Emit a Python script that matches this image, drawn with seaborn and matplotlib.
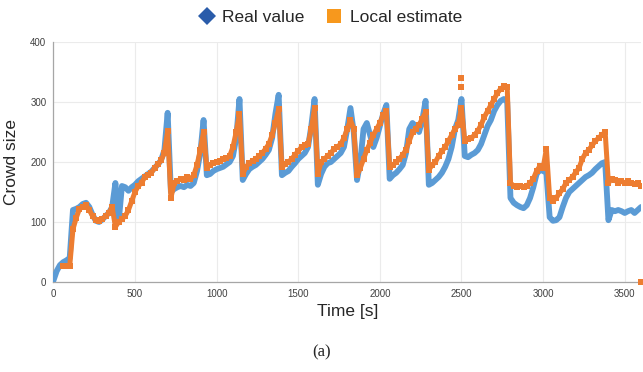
import numpy as np
import pandas as pd
import seaborn as sns
import matplotlib.pyplot as plt
from matplotlib.lines import Line2D

# sampled every 20 s, 0..3600
time_s = list(range(0, 3601, 20))

real_value = [
    2, 18, 28, 33, 36, 40, 120, 122, 125, 130,
    132, 125, 112, 102, 100, 104, 110, 115, 125, 165,
    100, 160, 158, 152, 158, 162, 168, 172, 176, 180,
    184, 190, 196, 203, 220, 282, 150, 155, 158, 160,
    158, 162, 160, 165, 185, 215, 270, 178, 180, 185,
    188, 190, 192, 196, 200, 210, 240, 305, 170, 180,
    188, 192, 195, 200, 205, 212, 220, 240, 280, 312,
    178, 182, 185, 192, 198, 205, 210, 215, 225, 260,
    305, 162, 180, 192, 198, 200, 205, 210, 215, 225,
    255, 290, 250, 170, 200, 255, 265, 245, 225, 240,
    260, 280, 295, 172, 178, 182, 188, 195, 215, 255,
    265, 260, 250, 270, 302, 162, 165, 170, 175, 182,
    192, 205, 225, 255, 270, 305, 210, 208, 212, 215,
    220, 230, 245, 260, 270, 285, 295, 302, 305, 300,
    140, 132, 128, 125, 123, 128, 140, 158, 180, 187,
    185, 182, 108, 102, 103, 108, 125, 140, 150, 155,
    160, 165, 170, 175, 178, 182, 188, 193, 198, 200,
    103, 120, 118, 120, 118, 115, 118, 120, 115, 120,
    125,
]

local_estimate = [
    np.nan, np.nan, np.nan, 27, 27, 26, 88, 107, 122, 125,
    128, 120, 110, 103, 102, 105, 110, 115, 125, 92,
    100, 105, 110, 120, 135, 150, 160, 165, 175, 178,
    182, 190, 196, 203, 215, 252, 140, 165, 168, 172,
    170, 175, 172, 178, 195, 220, 250, 190, 195, 198,
    200, 202, 205, 206, 210, 225, 250, 280, 180, 192,
    198, 202, 205, 210, 215, 222, 230, 245, 265, 288,
    192, 196, 200, 205, 212, 218, 225, 228, 230, 255,
    290, 180, 200, 205, 210, 215, 222, 225, 230, 240,
    255, 270, 255, 178, 190, 205, 220, 232, 245, 255,
    265, 278, 285, 192, 195, 200, 205, 212, 220, 235,
    250, 255, 262, 272, 283, 187, 195, 200, 210, 218,
    225, 235, 245, 255, 262, 290, 235, 238, 240, 245,
    252, 262, 275, 285, 295, 305, 315, 322, 326, 325,
    165, 160, 158, 160, 158, 160, 165, 172, 185, 193,
    190, 222, 140, 135, 140, 148, 155, 165, 170, 175,
    183, 190, 205, 215, 220, 228, 235, 240, 245, 250,
    165, 172, 170, 165, 168, 165, 168, 165, 163, 165,
    160,
]

# isolated estimate squares off the main band
outlier_t = [2500, 2500, 3600]
outlier_v = [340, 325, 0]

df = pd.DataFrame({"t": time_s, "real": real_value, "est": local_estimate})

sns.set_style("white")
plt.rcParams["font.family"] = ["Liberation Sans", "DejaVu Sans"]

fig = plt.figure(figsize=(6.43, 3.72), dpi=100)
ax = fig.add_axes([0.083, 0.242, 0.914, 0.645])

sns.lineplot(data=df, x="t", y="real", ax=ax, color="#5b9bd5", linewidth=4.2,
             zorder=3)
sns.lineplot(data=df, x="t", y="est", ax=ax, color="#ed7d31", linewidth=3.6,
             marker="s", markersize=4.5, markeredgewidth=0, zorder=4)
sns.scatterplot(x=outlier_t, y=outlier_v, ax=ax, color="#ed7d31", marker="s",
                s=20, linewidth=0, zorder=5, clip_on=False)

ax.set_xlim(0, 3600)
ax.set_ylim(0, 400)
ax.set_xticks(range(0, 3501, 500))
ax.set_yticks(range(0, 401, 100))
ax.grid(True, color="#ebebeb", linewidth=0.8)
ax.set_axisbelow(True)
for side in ["top", "right"]:
    ax.spines[side].set_visible(False)
for side in ["left", "bottom"]:
    ax.spines[side].set_color("#a6a6a6")
    ax.spines[side].set_linewidth(0.9)
ax.tick_params(axis="both", labelsize=7, colors="#a6a6a6",
               length=3, width=0.8, pad=2)
ax.tick_params(axis="both", labelcolor="#404040")
ax.set_xlabel("Time [s]", fontsize=12.5, labelpad=4)
ax.set_ylabel("Crowd size", fontsize=12.5, labelpad=8)

handles = [
    Line2D([], [], marker="D", linestyle="", color="#2a5caa", markersize=9,
           markeredgewidth=0),
    Line2D([], [], marker="s", linestyle="", color="#f7981d", markersize=10,
           markeredgewidth=0),
]
fig.legend(handles, ["Real value", "Local estimate"], loc="center",
           bbox_to_anchor=(0.512, 0.952), ncol=2, frameon=False, fontsize=12.5,
           handletextpad=0.3, columnspacing=1.1, handlelength=1.2)

fig.text(0.5, 0.052, "(a)", ha="center", va="center", fontsize=12,
         family=["Liberation Serif", "DejaVu Serif"])

fig.savefig("out.png", dpi=100)
